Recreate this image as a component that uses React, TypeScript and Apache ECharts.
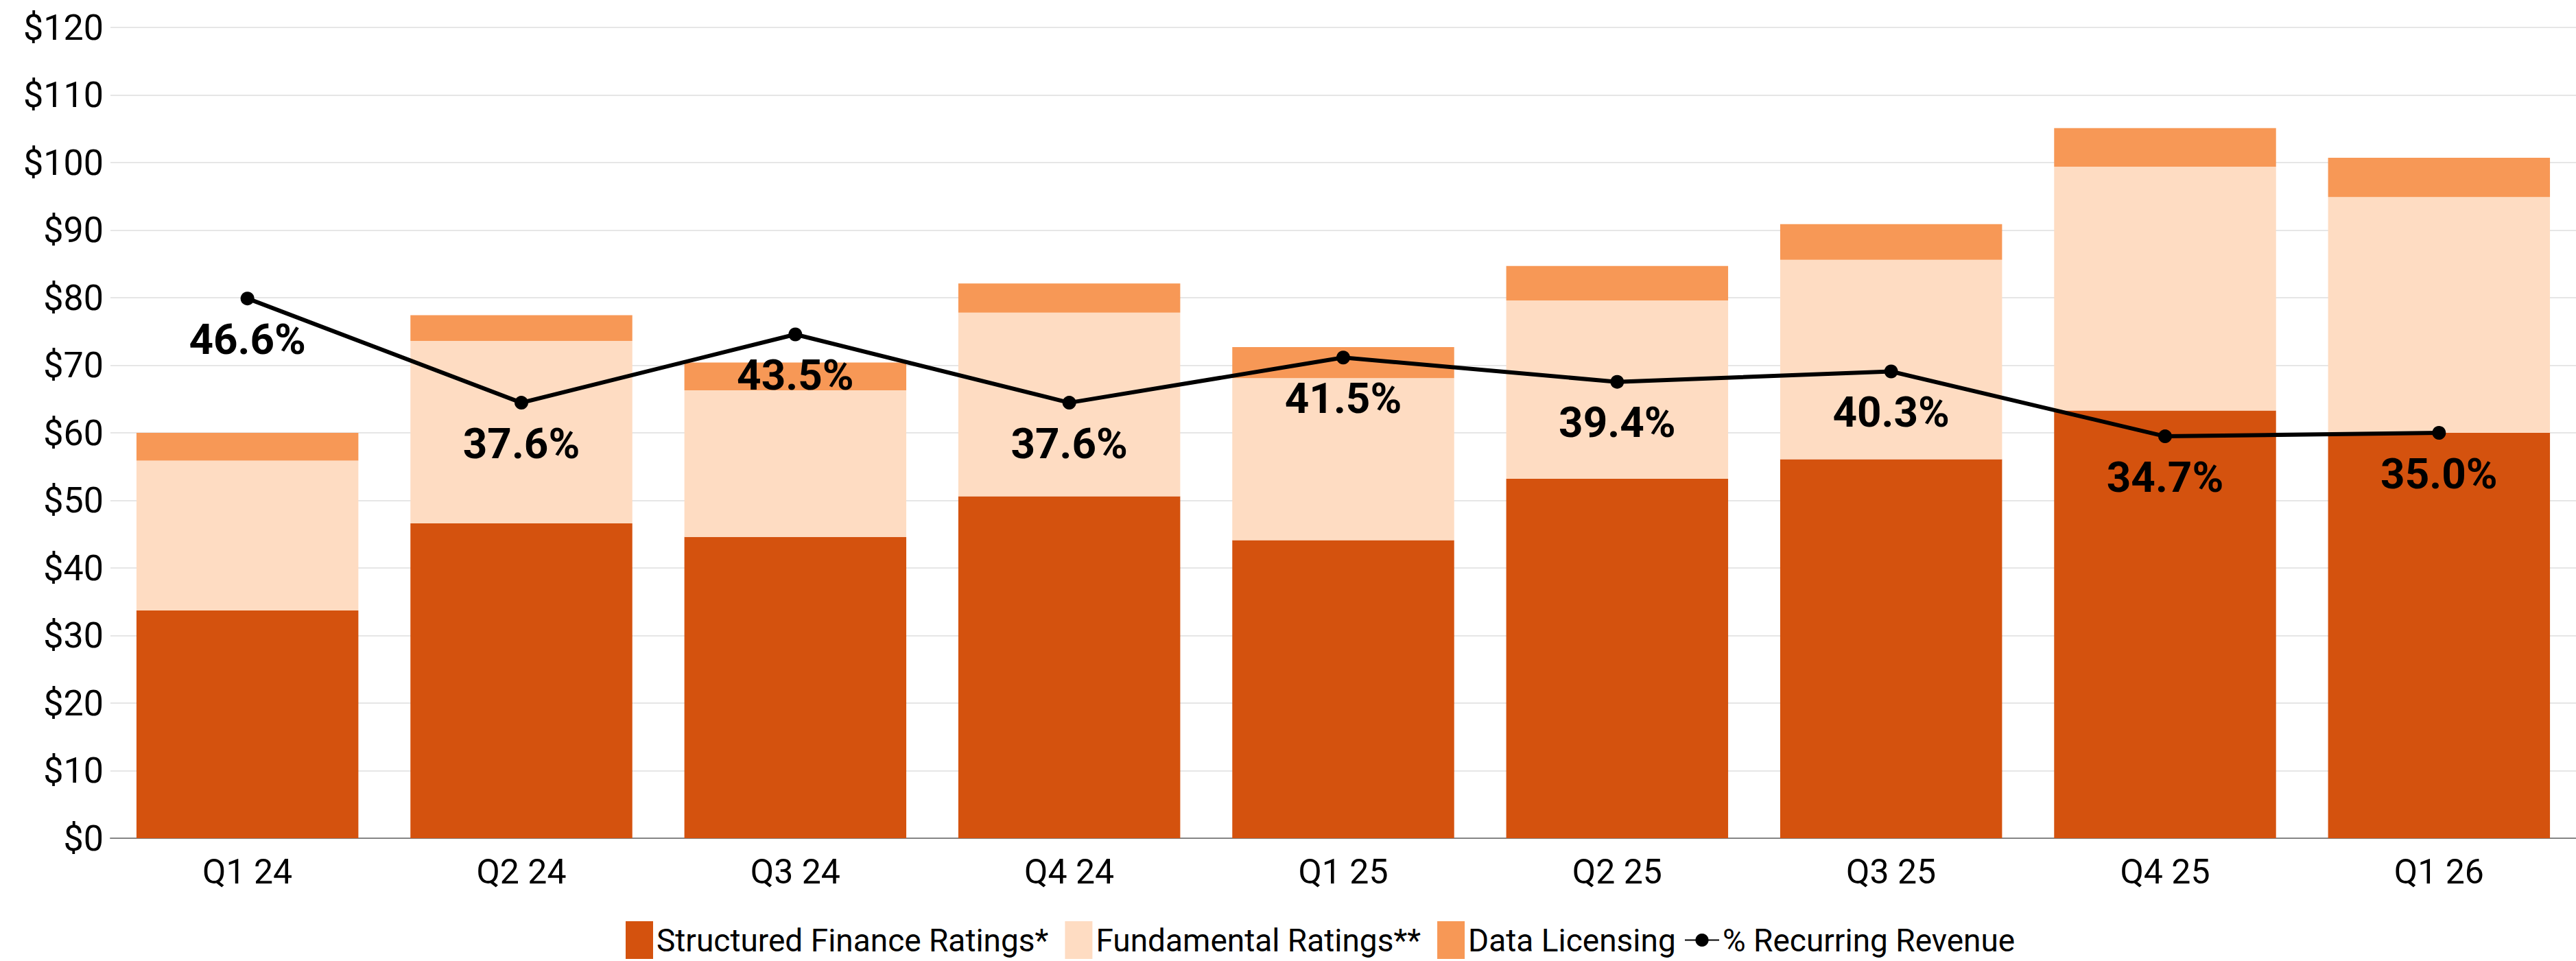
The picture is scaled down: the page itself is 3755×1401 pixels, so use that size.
import React, { useEffect, useRef } from "react";
import * as echarts from "echarts";

const categories = ["Q1 24", "Q2 24", "Q3 24", "Q4 24", "Q1 25", "Q2 25", "Q3 25", "Q4 25", "Q1 26"];
const structuredFinance = [33.7, 46.6, 44.6, 50.6, 44.1, 53.2, 56.1, 63.3, 60.0];
const fundamental = [22.2, 27.0, 21.7, 27.2, 24.0, 26.4, 29.5, 36.1, 34.9];
const dataLicensing = [4.1, 3.8, 4.1, 4.3, 4.6, 5.1, 5.3, 5.7, 5.8];
const recurringPct = [46.6, 37.6, 43.5, 37.6, 41.5, 39.4, 40.3, 34.7, 35.0];

const seriesNames = [
  "Structured Finance Ratings*",
  "Fundamental Ratings**",
  "Data Licensing",
  "% Recurring Revenue",
];
const colors = ["#D4520E", "#FEDCC2", "#F79856", "#000000"];

const FONT = "Roboto, 'Liberation Sans', sans-serif";

export default function App() {
  const ref = useRef<HTMLDivElement>(null);
  useEffect(() => {
    if (!ref.current) return;
    const chart = echarts.init(ref.current, null, { renderer: "svg" });
    const barSeries = [structuredFinance, fundamental, dataLicensing].map((d, i) => ({
      name: seriesNames[i],
      type: "bar",
      stack: "rev",
      data: d,
      barCategoryGap: "19%",
      itemStyle: { color: colors[i] },
      emphasis: { disabled: true },
    }));
    const legendText = { fontFamily: FONT, fontSize: 46, lineHeight: 55, color: "#000" };
    chart.setOption({
      animation: false,
      backgroundColor: "#ffffff",
      textStyle: { fontFamily: FONT },
      grid: { left: 161, top: 40, width: 3619, height: 1182 },
      legend: [
        {
          left: 907,
          top: 1338,
          padding: 5,
          data: seriesNames.slice(0, 3).map((n) => ({ name: n, icon: "rect" })),
          itemWidth: 40,
          itemHeight: 55,
          itemGap: 24,
          textStyle: legendText,
          selectedMode: false,
        },
        {
          left: 2450,
          top: 1338,
          padding: 5,
          data: [seriesNames[3]],
          itemWidth: 50,
          itemHeight: 24,
          textStyle: legendText,
          selectedMode: false,
        },
      ],
      xAxis: {
        type: "category",
        data: categories,
        axisTick: { show: false },
        axisLine: { lineStyle: { color: "#858585", width: 2 } },
        axisLabel: { fontFamily: FONT, fontSize: 50, color: "#000", margin: 24 },
      },
      yAxis: [
        {
          type: "value",
          min: 0,
          max: 120,
          interval: 10,
          axisLabel: {
            fontFamily: FONT,
            fontSize: 52,
            color: "#000",
            margin: 10,
            formatter: (v: number) => `$${v}`,
          },
          splitLine: { lineStyle: { color: "#E6E6E6", width: 2 } },
          axisLine: { show: false },
          axisTick: { show: false },
        },
        { type: "value", min: 0, max: 70, show: false, splitLine: { show: false } },
      ],
      series: [
        ...barSeries,
        {
          name: seriesNames[3],
          type: "line",
          yAxisIndex: 1,
          data: recurringPct,
          symbol: "circle",
          symbolSize: 20,
          z: 10,
          itemStyle: { color: "#000" },
          lineStyle: { color: "#000", width: 6 },
          emphasis: { disabled: true },
          label: {
            show: true,
            position: "bottom",
            distance: 16,
            fontFamily: FONT,
            fontWeight: "bold",
            fontSize: 62,
            lineHeight: 66,
            color: "#000",
            formatter: (p: any) => `${Number(p.value).toFixed(1)}%`,
          },
        },
      ],
    });
    return () => chart.dispose();
  }, []);
  return (
    <div
      ref={ref}
      style={{ position: "absolute", left: 0, top: 0, width: 3755, height: 1401 }}
    />
  );
}
